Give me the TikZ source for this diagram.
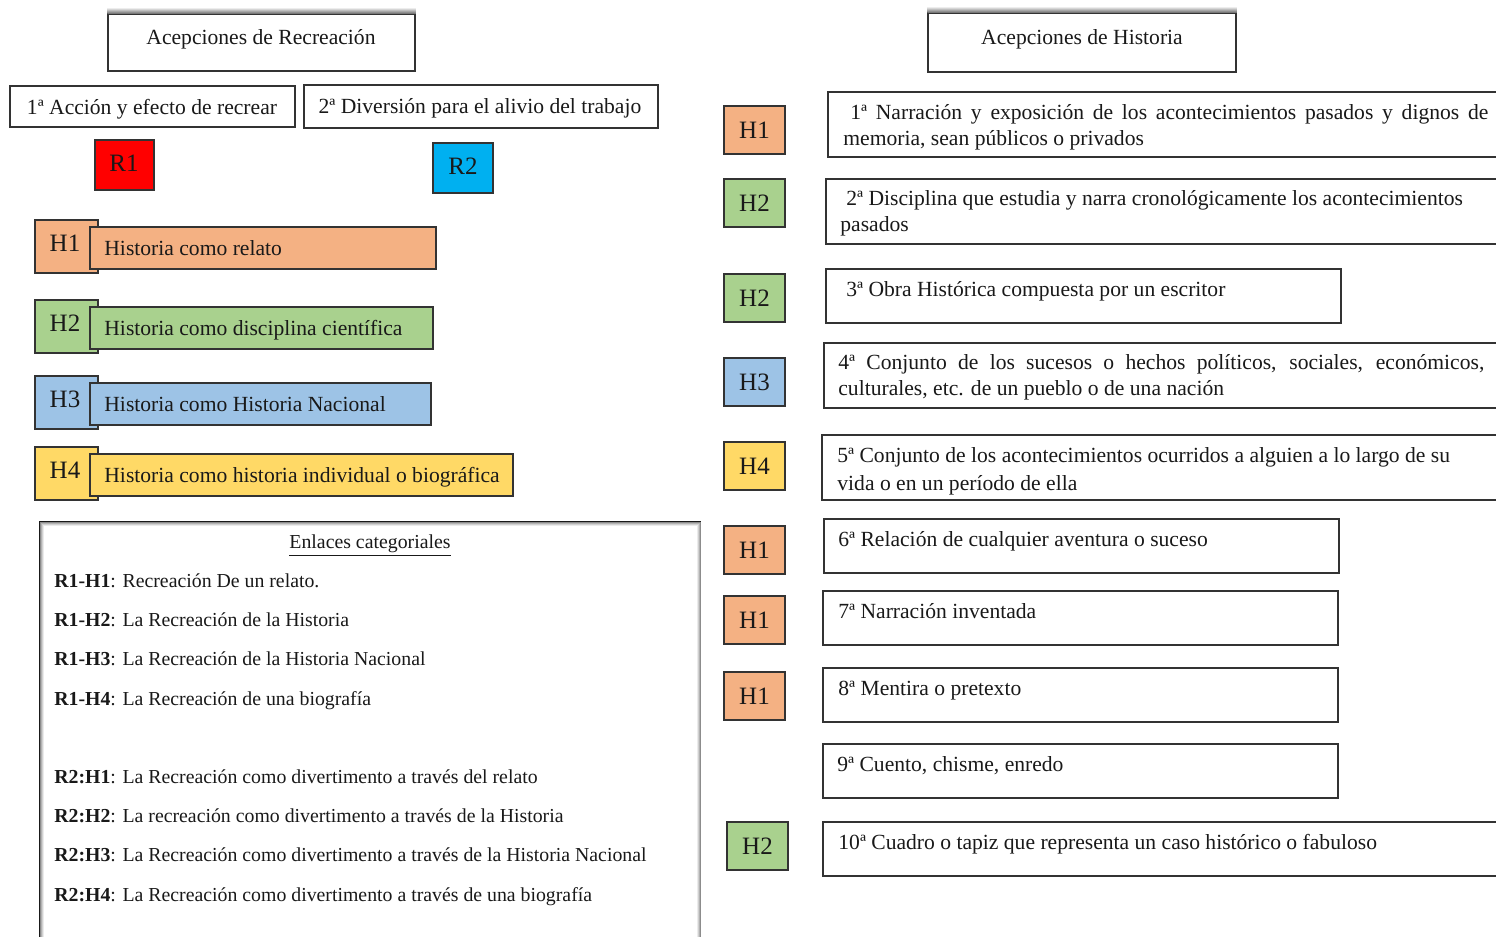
\documentclass[tikz,border=0pt]{standalone}
\usepackage{fontspec}
\setmainfont{Liberation Serif}
\usetikzlibrary{fit}

\definecolor{rojo}{RGB}{255,0,0}
\definecolor{celeste}{RGB}{0,176,240}
\definecolor{naranja}{RGB}{244,177,131}
\definecolor{verde}{RGB}{169,209,142}
\definecolor{azul}{RGB}{157,195,230}
\definecolor{amarillo}{RGB}{255,217,102}

\begin{document}
\begin{tikzpicture}
  [
    x                  = 0.5pt,
    y                  = -0.5pt,
    every node/.style  = {font=\fontsize{10.8}{13}\selectfont, text=black!90},
    marco/.style       = {draw=black!80, line width=0.75pt, inner sep=0pt},
    etiqueta/.style    = {inner sep=0pt, anchor=base,
                          font=\fontsize{12.5}{13}\selectfont},
    texto/.style       = {inner sep=0pt, anchor=base west, align=left},
    enlace/.style      = {inner sep=0pt, anchor=base west,
                          font=\fontsize{9.9}{12}\selectfont},
    % soft shade over the top edge of the title boxes
    sombra/.style      = {top color=white, bottom color=black!55}
  ]
  \fill[white] (0,0) rectangle (1496,937);
  \useasboundingbox (0,0) rectangle (1496,937);

  % ---- Recreacion -------------------------------------------------
  \node [marco, fit={(108,14) (415,71)}] (recreacion) {};
  \shade [sombra] ([yshift=3pt]recreacion.north west) rectangle (recreacion.north east);
  \node [anchor=base] (recreacionT) at (261,44) {Acepciones de Recreación};

  \node [marco, fit={(10,86) (295,127)}]  (acc1) {};
  \node [anchor=base] (acc1T) at (152,114) {1ª Acción y efecto de recrear};
  \node [marco, fit={(304,85) (658,128)}] (acc2) {};
  \node [anchor=base] (acc2T) at (480,113) {2ª Diversión para el alivio del trabajo};

  \node [marco, fill=rojo,    fit={(95,140) (154,190)}]  (r1) {};
  \node [etiqueta] (r1T) at (124,171) {R1};
  \node [marco, fill=celeste, fit={(433,143) (493,193)}] (r2) {};
  \node [etiqueta] (r2T) at (463,174) {R2};

  \foreach \y/\c/\h/\w/\t [count=\i] in
    {220/naranja/H1/436/Historia como relato,
     300/verde/H2/433/Historia como disciplina científica,
     376/azul/H3/431/Historia como Historia Nacional,
     447/amarillo/H4/513/Historia como historia individual o biográfica}
  {
    \node [marco, fill=\c, fit={(35,\y) (98,\y+53)}]    (hs\i) {};
    \node [marco, fill=\c, fit={(90,\y+7) (\w,\y+49)}] (hb\i) {};
    \node [etiqueta] (hl\i) at (65,\y+31) {\h};
    \node [texto]    (ht\i) at (104,\y+35) {\t};
  }

  % ---- Enlaces categoriales ----------------------------------------
  \node [marco, draw=black!90, line width=1pt, fit={(40,522) (700,950)}] (enlaces) {};
  \foreach \d/\g in {1/45,2/30,3/18,4/8}
    \draw [black!\g, line width=0.5pt]
      ([shift={(\d*0.5pt,-\d*0.5pt)}]enlaces.north west) rectangle
      ([shift={(-\d*0.5pt,\d*0.5pt)}]enlaces.south east);
  \node [enlace, anchor=base] (enlacesT) at (370,548) {\underline{Enlaces categoriales}};
  \foreach \y/\k/\t [count=\i] in
    {587/R1-H1/Recreación De un relato.,
     626/R1-H2/La Recreación de la Historia,
     665/R1-H3/La Recreación de la Historia Nacional,
     705/R1-H4/La Recreación de una biografía,
     783/R2:H1/La Recreación como divertimento a través del relato,
     822/R2:H2/La recreación como divertimento a través de la Historia,
     861/R2:H3/La Recreación como divertimento a través de la Historia Nacional,
     901/R2:H4/La Recreación como divertimento a través de una biografía}
    \node [enlace] (e\i) at (54,\y) {\textbf{\k}: \t};

  % ---- Historia ------------------------------------------------------
  \node [marco, fit={(928,13) (1236,72)}] (historia) {};
  \shade [sombra] ([yshift=3pt]historia.north west) rectangle (historia.north east);
  \node [anchor=base] (historiaT) at (1082,44) {Acepciones de Historia};

  \foreach \x/\y/\c/\h [count=\i] in
    {724/106/naranja/H1, 724/179/verde/H2, 724/274/verde/H2,
     724/358/azul/H3, 724/442/amarillo/H4, 724/526/naranja/H1,
     724/596/naranja/H1, 724/672/naranja/H1, 727/822/verde/H2}
  {
    \node [marco, fill=\c, fit={(\x,\y) (\x+61,\y+48)}] (k\i) {};
    \node [etiqueta, anchor=center] (kl\i) at (k\i.center) {\h};
  }

  \node [marco, fit={(828,92) (1510,157)}]  (a1) {};
  \node [marco, fit={(826,179) (1510,244)}] (a2) {};
  \node [marco, fit={(826,269) (1341,323)}] (a3) {};
  \node [marco, fit={(824,343) (1510,408)}] (a4) {};
  \node [marco, fit={(822,435) (1510,500)}] (a5) {};
  \node [marco, fit={(824,519) (1339,573)}] (a6) {};
  \node [marco, fit={(823,591) (1338,645)}] (a7) {};
  \node [marco, fit={(823,668) (1338,722)}] (a8) {};
  \node [marco, fit={(823,744) (1338,798)}] (a9) {};
  \node [marco, fit={(823,822) (1510,876)}] (a10) {};

  % multi-line texts sit on the baseline of their last line
  \node [texto] (a1T) at (843,145)
    {\hspace{3.5pt}\makebox[319pt][s]{1ª Narración y exposición de los acontecimientos pasados y dignos de}\\
     memoria, sean públicos o privados};
  \node [texto] (a2T) at (840,231)
    {\hspace{3pt}2ª Disciplina que estudia y narra cronológicamente los acontecimientos\\
     pasados};
  \node [texto] (a3T) at (840,296) {\hspace{3pt}3ª Obra Histórica compuesta por un escritor};
  \node [texto] (a4T) at (838,395)
    {\makebox[323pt][s]{4ª Conjunto de los sucesos o hechos políticos, sociales, económicos,}\\
     culturales, etc. de un pueblo o de una nación};
  \node [texto] (a5T) at (837,490)
    {5ª Conjunto de los acontecimientos ocurridos a alguien a lo largo de su\\[1pt]
     vida o en un período de ella};
  \node [texto] (a6T)  at (838,546) {6ª Relación de cualquier aventura o suceso};
  \node [texto] (a7T)  at (838,618) {7ª Narración inventada};
  \node [texto] (a8T)  at (838,695) {8ª Mentira o pretexto};
  \node [texto] (a9T)  at (837,771) {9ª Cuento, chisme, enredo};
  \node [texto] (a10T) at (838,849) {10ª Cuadro o tapiz que representa un caso histórico o fabuloso};
\end{tikzpicture}
\end{document}
